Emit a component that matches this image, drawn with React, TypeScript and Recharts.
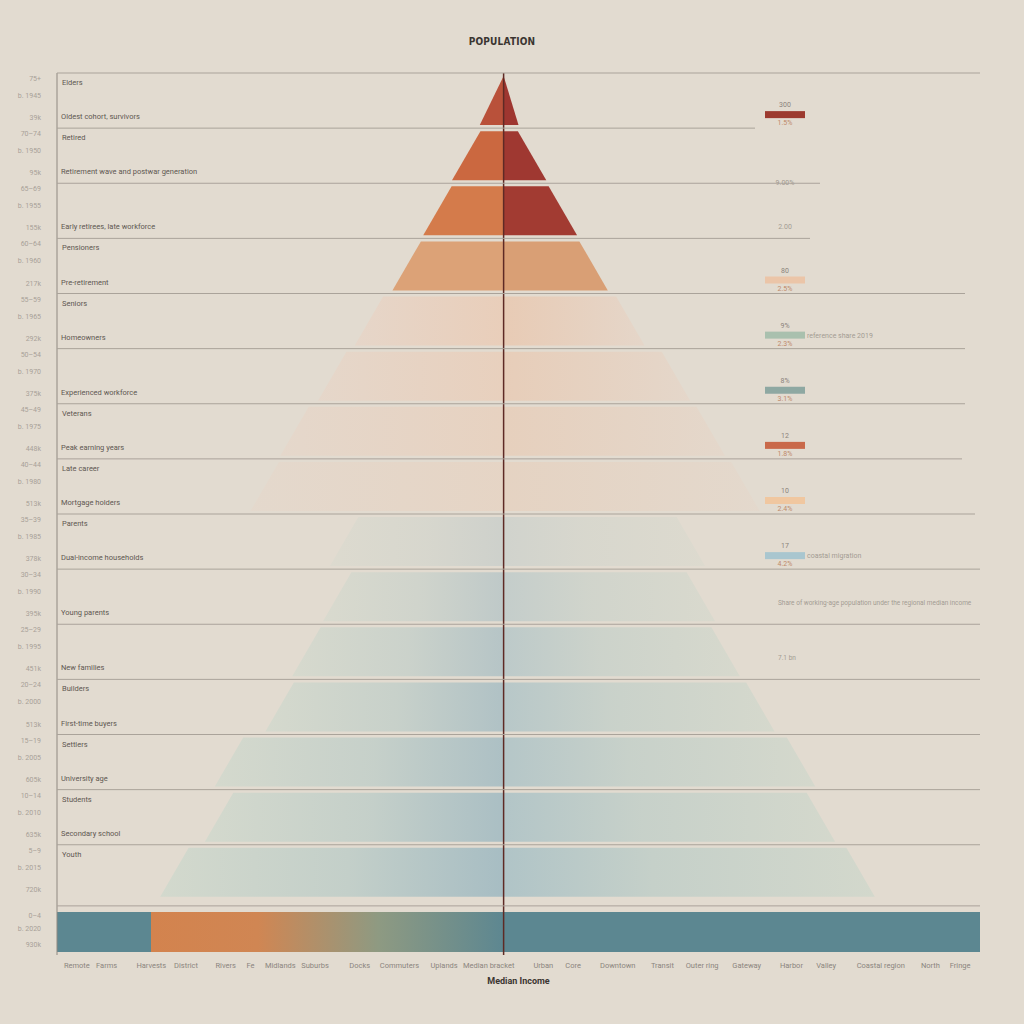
import { ComposedChart, Bar, XAxis, YAxis, ReferenceLine, Cell } from 'recharts';

// age bands, top of the pyramid first
const ageGroups = ['75+', '70–74', '65–69', '60–64', '55–59', '50–54', '45–49', '40–44', '35–39', '30–34', '25–29', '20–24', '15–19', '10–14', '5–9', '0–4'];
const cohorts = ['b. 1945', 'b. 1950', 'b. 1955', 'b. 1960', 'b. 1965', 'b. 1970', 'b. 1975', 'b. 1980', 'b. 1985', 'b. 1990', 'b. 1995', 'b. 2000', 'b. 2005', 'b. 2010', 'b. 2015', 'b. 2020'];
const rowTotals = ['39k', '95k', '155k', '217k', '292k', '375k', '448k', '513k', '378k', '395k', '451k', '513k', '605k', '635k', '720k', '930k'];

// thousands of residents, left side negative
const leftValues = [-24, -52, -81, -112, -150, -187, -225, -255, -175, -182, -213, -240, -291, -301, -346, -450];
const rightValues = [15, 43, 74, 105, 142, 188, 223, 258, 203, 213, 238, 273, 314, 334, 374, 480];

const topLabels = ['Elders', 'Retired', '', 'Pensioners', 'Seniors', '', 'Veterans', 'Late career', 'Parents', '', '', 'Builders', 'Settlers', 'Students', 'Youth', ''];
const bottomLabels = [
  'Oldest cohort, survivors',
  'Retirement wave and postwar generation',
  'Early retirees, late workforce',
  'Pre-retirement',
  'Homeowners',
  'Experienced workforce',
  'Peak earning years',
  'Mortgage holders',
  'Dual-income households',
  'Young parents',
  'New families',
  'First-time buyers',
  'University age',
  'Secondary school',
  '',
  '',
];

// side notes at the right
const noteTop = ['300', '', '', '80', '9%', '8%', '12', '10', '17', '', '', '', '', '', '', ''];
const noteBottom = ['1.5%', '9.00%', '2.00', '2.5%', '2.3%', '3.1%', '1.8%', '2.4%', '4.2%', '', '', '', '', '', '', ''];
const noteText = ['', '', '', '', 'reference share 2019', '', '', '', 'coastal migration', 'Share of working-age population under the regional median income', '7.1 bn', '', '', '', '', ''];

const xTicks = [-430, -400, -355, -320, -280, -255, -225, -190, -145, -105, -60, -15, 40, 70, 115, 160, 200, 245, 290, 325, 380, 430, 460];
const xTickLabels = ['Remote', 'Farms', 'Harvests', 'District', 'Rivers', 'Fe', 'Midlands', 'Suburbs', 'Docks', 'Commuters', 'Uplands', 'Median bracket', 'Urban', 'Core', 'Downtown', 'Transit', 'Outer ring', 'Gateway', 'Harbor', 'Valley', 'Coastal region', 'North', 'Fringe'];

const data = ageGroups.map((age, i) => ({ age, left: leftValues[i], right: rightValues[i] }));

const W = 1024;
const H = 1024;
const PLOT_LEFT = 57;
const PLOT_RIGHT = 980;
const PLOT_TOP = 73;
const X_AXIS_H = 69;
const BAND = (H - PLOT_TOP - X_AXIS_H) / ageGroups.length;
const NOTE_X = 785;

const leftFill = ['#b9513a', '#cb6840', '#d47b4b', '#dca277', 'url(#pinkL)', 'url(#pinkL)', 'url(#pinkL)', 'url(#pinkL)', 'url(#greenL)', 'url(#greenL)', 'url(#greenL)', 'url(#greenL)', 'url(#greenL)', 'url(#greenL)', 'url(#greenL)', 'url(#baseL)'];
const rightFill = ['#9e3630', '#9f3831', '#a23b32', '#d99f75', 'url(#pinkR)', 'url(#pinkR)', 'url(#pinkR)', 'url(#pinkR)', 'url(#greenR)', 'url(#greenR)', 'url(#greenR)', 'url(#greenR)', 'url(#greenR)', 'url(#greenR)', 'url(#greenR)', '#5c8791'];
const rowOpacity = [1, 1, 1, 1, 1, 0.85, 0.7, 0.5, 0.35, 0.6, 0.75, 0.85, 0.9, 0.95, 1, 1];
const noteColor = ['#9c3a2f', '', '', '#ebc5a8', '#a9c0ae', '#8ea8a2', '#c9694a', '#f0c7a0', '#a9c6cf', '', '', '', '', '', '', ''];
const gridEnd = [755, 820, 810, 965, 965, 965, 962, 975, 980, 980, 980, 980, 980, 980, 980, 980];

function trapezoid(props: any, side: 'L' | 'R') {
  const { x, fill, fillOpacity, index } = props;
  let { y, width, height } = props;
  const x0 = Math.min(x, x + width);
  const x1 = Math.max(x, x + width);
  const w = x1 - x0;
  const flat = index === ageGroups.length - 1;
  if (flat) {
    // the base band sits a little lower than the steps above it
    y += 9;
    height -= 9;
  }
  const inset = flat ? 0 : Math.min(w, height * 0.58);
  const d =
    side === 'R'
      ? `M${x0},${y} L${x1 - inset},${y} L${x1},${y + height} L${x0},${y + height} Z`
      : `M${x0 + inset},${y} L${x1},${y} L${x1},${y + height} L${x0},${y + height} Z`;
  return <path d={d} fill={fill} fillOpacity={fillOpacity} />;
}

const RowTick = (p: any) => {
  const i = p.index;
  const cy = p.y;
  const top = cy - BAND / 2;
  const bottom = cy + BAND / 2;
  const hasBar = noteColor[i] !== '';
  const isLast = i === ageGroups.length - 1;
  return (
    <g>
      {i === 0 && <line x1={PLOT_LEFT} x2={PLOT_RIGHT} y1={top} y2={top} stroke="#aaa39a" />}
      {i < ageGroups.length - 2 && <line x1={PLOT_LEFT} x2={gridEnd[i]} y1={bottom} y2={bottom} stroke="#aaa39a" />}
      {i === ageGroups.length - 2 && <line x1={PLOT_LEFT} x2={gridEnd[i]} y1={bottom + 6} y2={bottom + 6} stroke="#aaa39a" />}
      <text x={PLOT_LEFT - 16} y={top + (isLast ? 18 : 8)} textAnchor="end" fontSize={7} fill="#a8a198">{ageGroups[i]}</text>
      <text x={PLOT_LEFT - 16} y={top + (isLast ? 31 : 25)} textAnchor="end" fontSize={7} fill="#a8a198">{cohorts[i]}</text>
      <text x={PLOT_LEFT - 16} y={bottom - 8} textAnchor="end" fontSize={7} fill="#a8a198">{rowTotals[i]}</text>
      <text x={PLOT_LEFT + 5} y={top + 12} fontSize={7.5} fill="#5e5750">{topLabels[i]}</text>
      <text x={PLOT_LEFT + 4} y={bottom - 9} fontSize={7.5} fill="#5e5750">{bottomLabels[i]}</text>
      {noteTop[i] && <text x={NOTE_X} y={bottom - 21} textAnchor="middle" fontSize={7} fill="#8a837b">{noteTop[i]}</text>}
      {hasBar && <rect x={NOTE_X - 20} y={bottom - 17} width={40} height={7} fill={noteColor[i]} />}
      {noteBottom[i] && (
        <text x={NOTE_X} y={hasBar ? bottom - 3 : bottom - (i === 1 ? -2 : 9)} textAnchor="middle" fontSize={7} fill={hasBar ? '#c08a6a' : '#a39c93'}>
          {noteBottom[i]}
        </text>
      )}
      {noteText[i] && (
        <text x={hasBar ? NOTE_X + 22 : NOTE_X - 7} y={hasBar ? bottom - 11 : cy + 8} fontSize={hasBar ? 7 : 6.5} fill="#a39c93">{noteText[i]}</text>
      )}
    </g>
  );
};

export default function App() {
  return (
    <div style={{ position: 'absolute', left: 0, top: 0, width: W, height: H, background: '#e2dbd0', fontFamily: 'Roboto, sans-serif' }}>
      <div style={{ position: 'absolute', top: 36, left: 0, width: 1004, textAlign: 'center', fontFamily: "'DejaVu Sans Condensed', 'Liberation Sans Narrow', sans-serif", fontWeight: 700, fontSize: 10, color: '#3b3531', letterSpacing: 0.2 }}>
        POPULATION
      </div>
      <ComposedChart
        width={W}
        height={H}
        data={data}
        layout="vertical"
        stackOffset="sign"
        barCategoryGap={3}
        margin={{ top: PLOT_TOP, right: W - PLOT_RIGHT, bottom: 0, left: 0 }}
      >
        <defs>
          <linearGradient id="pinkL" x1="0" y1="0" x2="1" y2="0">
            <stop offset="0%" stopColor="#e6d6c9" />
            <stop offset="100%" stopColor="#e9ceba" />
          </linearGradient>
          <linearGradient id="pinkR" x1="0" y1="0" x2="1" y2="0">
            <stop offset="0%" stopColor="#e8cbb5" />
            <stop offset="100%" stopColor="#e5d6c9" />
          </linearGradient>
          <linearGradient id="greenL" x1="0" y1="0" x2="1" y2="0">
            <stop offset="0%" stopColor="#d3d9cd" />
            <stop offset="55%" stopColor="#c3cfc9" />
            <stop offset="100%" stopColor="#a7bdc3" />
          </linearGradient>
          <linearGradient id="greenR" x1="0" y1="0" x2="1" y2="0">
            <stop offset="0%" stopColor="#b0c4c7" />
            <stop offset="40%" stopColor="#c5d0c9" />
            <stop offset="100%" stopColor="#d3d8cc" />
          </linearGradient>
          <linearGradient id="baseL" x1="0" y1="0" x2="1" y2="0">
            <stop offset="0%" stopColor="#5c8791" />
            <stop offset="21%" stopColor="#5c8791" />
            <stop offset="21%" stopColor="#d3834e" />
            <stop offset="45%" stopColor="#d08653" />
            <stop offset="72%" stopColor="#8e9a82" />
            <stop offset="100%" stopColor="#5d8791" />
          </linearGradient>
        </defs>
        <XAxis
          type="number"
          domain={[-450, 480]}
          ticks={xTicks}
          interval={0}
          height={X_AXIS_H}
          axisLine={false}
          tickLine={false}
          tick={{ fontSize: 7.5, fill: '#8b857e' }}
          tickFormatter={(_v: number, i: number) => xTickLabels[i]}
          label={{ value: 'Median Income', position: 'insideBottom', offset: 40, fontSize: 9, fontWeight: 700, fill: '#3b3531' }}
        />
        <YAxis
          type="category"
          dataKey="age"
          width={PLOT_LEFT}
          interval={0}
          axisLine={{ stroke: '#8f8880' }}
          tickLine={false}
          tick={<RowTick />}
        />
        <Bar dataKey="left" stackId="p" isAnimationActive={false} shape={(p: any) => trapezoid(p, 'L')}>
          {data.map((_d, i) => (
            <Cell key={i} fill={leftFill[i]} fillOpacity={rowOpacity[i]} />
          ))}
        </Bar>
        <Bar dataKey="right" stackId="p" isAnimationActive={false} shape={(p: any) => trapezoid(p, 'R')}>
          {data.map((_d, i) => (
            <Cell key={i} fill={rightFill[i]} fillOpacity={rowOpacity[i]} />
          ))}
        </Bar>
        <ReferenceLine x={0} stroke="#5e2a25" strokeWidth={1.5} />
      </ComposedChart>
    </div>
  );
}
